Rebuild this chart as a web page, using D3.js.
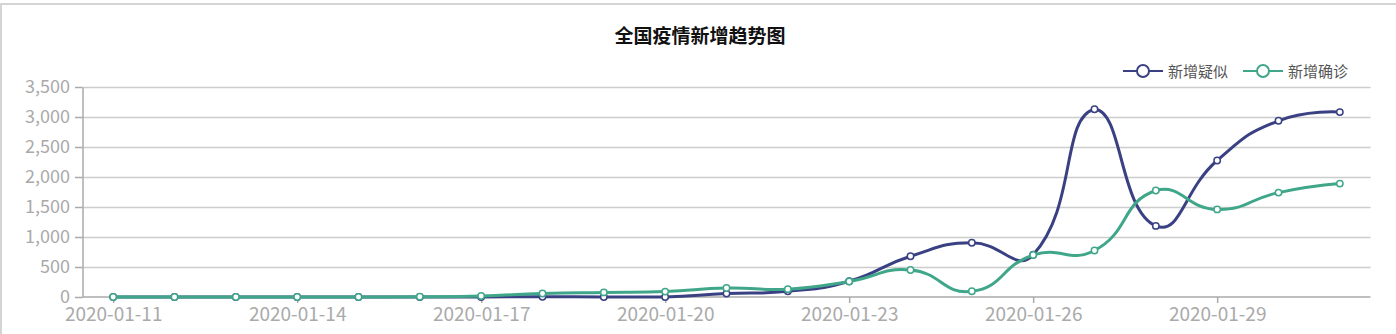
<!DOCTYPE html>
<html>
  <head>
    <meta charset="utf-8">
    <title>全国疫情新增趋势图</title>
    <style>
    body {
        margin: 0px;
        overflow: hidden;
        background: #fff;
    }

    text {
        font-family: "Microsoft YaHei", "Noto Sans CJK SC", sans-serif;
    }

    .tick text {
        font-size: 18px;
        fill: #aaaaaa;
    }

    .x-axis .tick text {
        font-size: 19px;
    }

    .tick line {
        stroke: #aaaaaa;
    }

    .domain {
        stroke: #aaaaaa;
    }
    </style>
    <script src="https://d3js.org/d3.v7.min.js"></script>
  </head>
  <body>

    <svg width="1396" height="334"></svg>

    <script>
        // data
        const dates = ['2020-01-11', '2020-01-12', '2020-01-13', '2020-01-14', '2020-01-15',
            '2020-01-16', '2020-01-17', '2020-01-18', '2020-01-19', '2020-01-20', '2020-01-21',
            '2020-01-22', '2020-01-23', '2020-01-24', '2020-01-25', '2020-01-26', '2020-01-27',
            '2020-01-28', '2020-01-29', '2020-01-30', '2020-01-31'];
        const suspected = [0, 0, 0, 0, 0, 0, 0, 5, 0, 0, 57, 95, 262, 680, 903, 705, 3130, 1185, 2275, 2937, 3082];
        const confirmed = [0, 0, 0, 0, 0, 4, 17, 59, 77, 90, 149, 131, 259, 450, 95, 700, 775, 1775, 1460, 1740, 1890];
        const yTicks = [0, 500, 1000, 1500, 2000, 2500, 3000, 3500];
        const xLabelEvery = 3;

        const seriesNames = ['新增疑似', '新增确诊'];
        const seriesColors = ['#3a4183', '#3fa68a'];

        const svg = d3.select('svg');
        const width = +svg.attr('width');
        const height = +svg.attr('height');

        //container border (top and left only are visible)
        svg.append('rect').attr('x', 0).attr('y', 3).attr('width', width).attr('height', 2).attr('fill', '#d4d4d4');
        svg.append('rect').attr('x', 0).attr('y', 3).attr('width', 2).attr('height', height - 3).attr('fill', '#d4d4d4');

        const margin = { top: 87, right: 25.5, bottom: 37, left: 82.5 };

        const xScale = d3.scalePoint()
            .domain(dates)
            .range([margin.left, width - margin.right])
            .padding(0.5);

        const yScale = d3.scaleLinear()
            .domain([0, 3500])
            .range([height - margin.bottom, margin.top]);

        //title
        svg.append('text')
            .text('全国疫情新增趋势图')
            .attr('x', 700)
            .attr('y', 43)
            .attr('text-anchor', 'middle')
            .attr('font-size', '19px')
            .attr('font-weight', 'bold')
            .attr('fill', '#111');

        //grid lines
        svg.append('g').selectAll('line').data(yTicks.filter(d => d > 0))
            .enter().append('line')
                .attr('x1', margin.left)
                .attr('x2', width - margin.right)
                .attr('y1', d => Math.round(yScale(d)) + 0.5)
                .attr('y2', d => Math.round(yScale(d)) + 0.5)
                .attr('stroke', '#cccccc')
                .attr('stroke-width', 1.5);

        //y axis
        const yAxisG = svg.append('g')
            .attr('transform', `translate(${margin.left},0)`)
            .call(d3.axisLeft(yScale).tickValues(yTicks).tickFormat(d3.format(',')).tickSize(7.5).tickPadding(5).tickSizeOuter(0));
        yAxisG.selectAll('.tick line').attr('stroke-width', 1.5);
        yAxisG.select('.domain').attr('stroke-width', 1.5);

        //x axis, labels every 3rd day
        const xAxisG = svg.append('g')
            .attr('class', 'x-axis')
            .attr('transform', `translate(0,${yScale(0)})`)
            .call(d3.axisBottom(xScale)
                .tickValues(dates.filter((d, i) => i % xLabelEvery === 0))
                .tickSize(6).tickPadding(5).tickSizeOuter(0));
        xAxisG.select('.domain').attr('d', `M${margin.left},0H${width - margin.right}`).attr('stroke-width', 1.5);
        xAxisG.selectAll('.tick line').attr('stroke-width', 1.5);

        //echarts-like smooth line
        function smoothPath(pts, smooth) {
            const p = d3.path();
            const minP = [d3.min(pts, d => d[0]), d3.min(pts, d => d[1])];
            const maxP = [d3.max(pts, d => d[0]), d3.max(pts, d => d[1])];
            const clamp = c => [Math.max(minP[0], Math.min(maxP[0], c[0])), Math.max(minP[1], Math.min(maxP[1], c[1]))];
            const dist = (a, b) => Math.hypot(a[0] - b[0], a[1] - b[1]);
            let cp0 = pts[0].slice();
            p.moveTo(pts[0][0], pts[0][1]);
            for (let i = 1; i < pts.length; i++) {
                const pt = pts[i], prev = pts[i - 1], next = pts[i + 1];
                let v = [0, 0], ratio = 0.5, cp1;
                if (!next) {
                    cp1 = pt.slice();
                } else {
                    v = [next[0] - prev[0], next[1] - prev[1]];
                    const d0 = dist(pt, prev), d1 = dist(pt, next);
                    ratio = d1 / (d0 + d1);
                    cp1 = [pt[0] - v[0] * smooth * (1 - ratio), pt[1] - v[1] * smooth * (1 - ratio)];
                }
                cp0 = clamp(cp0);
                cp1 = clamp(cp1);
                p.bezierCurveTo(cp0[0], cp0[1], cp1[0], cp1[1], pt[0], pt[1]);
                cp0 = [pt[0] + v[0] * smooth * ratio, pt[1] + v[1] * smooth * ratio];
            }
            return p.toString();
        }

        const series = [suspected, confirmed];
        series.forEach((values, s) => {
            const pts = values.map((v, i) => [xScale(dates[i]), yScale(v)]);
            const g = svg.append('g');
            g.append('path')
                .attr('d', smoothPath(pts, 0.5))
                .attr('fill', 'none')
                .attr('stroke', seriesColors[s])
                .attr('stroke-width', 3);
            g.selectAll('circle').data(pts)
                .enter().append('circle')
                    .attr('cx', d => d[0])
                    .attr('cy', d => d[1])
                    .attr('r', 3.2)
                    .attr('fill', '#fff')
                    .attr('stroke', seriesColors[s])
                    .attr('stroke-width', 1.5);
        });

        //legend
        const legendX = [1123, 1243];
        const legendY = 71;
        seriesNames.forEach((name, s) => {
            const lg = svg.append('g').attr('transform', `translate(${legendX[s]},${legendY})`);
            lg.append('line')
                .attr('x1', 0).attr('x2', 40)
                .attr('y1', 0).attr('y2', 0)
                .attr('stroke', seriesColors[s])
                .attr('stroke-width', 2);
            lg.append('circle')
                .attr('cx', 20).attr('cy', 0).attr('r', 6)
                .attr('fill', '#fff')
                .attr('stroke', seriesColors[s])
                .attr('stroke-width', 2);
            lg.append('text')
                .text(name)
                .attr('x', 45)
                .attr('y', 5.5)
                .attr('font-size', '15px')
                .attr('fill', '#555');
        });
    </script>
  </body>
</html>
